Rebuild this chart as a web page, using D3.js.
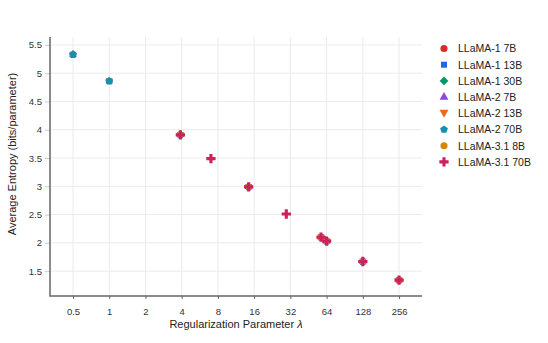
<!DOCTYPE html>
<html>
<head>
<meta charset="utf-8">
<script src="https://cdn.jsdelivr.net/npm/d3@7"></script>
<style>
  body { margin: 0; background: #fff; }
  svg { display: block; font-family: "Liberation Sans", Arial, sans-serif; }
</style>
</head>
<body>
<svg id="chart" width="548" height="343"></svg>
<script>
// series names (legend order = draw order)
const seriesNames = ["LLaMA-1 7B", "LLaMA-1 13B", "LLaMA-1 30B", "LLaMA-2 7B",
                     "LLaMA-2 13B", "LLaMA-2 70B", "LLaMA-3.1 8B", "LLaMA-3.1 70B"];
const seriesColors = ["#e0282a", "#2563eb", "#07966a", "#8b46e6",
                      "#ee6a1b", "#1592aa", "#d4870c", "#cf1f5f"];
const seriesShapes = ["circle", "square", "diamond", "triangleUp",
                      "triangleDown", "pentagon", "circle", "plus"];

// regularization parameter values / average entropy
const lambdaL1 = [3.9, 14.4, 57.5, 64, 128, 256];
const entropyL1 = [3.91, 2.99, 2.10, 2.03, 1.67, 1.34];
const lambdaL2 = [0.5, 1, 3.9, 14.4, 57.5, 64, 128, 256];
const entropyL2 = [5.33, 4.86, 3.91, 2.99, 2.10, 2.03, 1.67, 1.34];
const lambdaL31_8 = [3.9, 14.4, 57.5, 64, 128, 256];
const entropyL31_8 = [3.91, 2.99, 2.10, 2.03, 1.67, 1.34];
const lambdaL31_70 = [3.9, 7, 14.4, 29.6, 57.5, 64, 128, 256];
const entropyL31_70 = [3.91, 3.49, 2.99, 2.51, 2.10, 2.03, 1.67, 1.34];

const xTicks = [0.5, 1, 2, 4, 8, 16, 32, 64, 128, 256];
const yTicks = [1.5, 2, 2.5, 3, 3.5, 4, 4.5, 5, 5.5];

const seriesLambda = [lambdaL1, lambdaL1, lambdaL1, lambdaL2, lambdaL2, lambdaL2, lambdaL31_8, lambdaL31_70];
const seriesEntropy = [entropyL1, entropyL1, entropyL1, entropyL2, entropyL2, entropyL2, entropyL31_8, entropyL31_70];

const svg = d3.select("#chart");
const plotLeft = 50, plotRight = 422, plotTop = 37, plotBottom = 296;

const x = d3.scaleLog().base(2).domain([0.322, 397]).range([plotLeft, plotRight]);
const y = d3.scaleLinear().domain([1.06, 5.64]).range([plotBottom, plotTop]);

// custom symbols
const pentagon = {
  draw(ctx, size) {
    const r = Math.sqrt(size / 2.378);
    for (let i = 0; i < 5; i++) {
      const a = -Math.PI / 2 + i * 2 * Math.PI / 5;
      if (i === 0) ctx.moveTo(r * Math.cos(a), r * Math.sin(a));
      else ctx.lineTo(r * Math.cos(a), r * Math.sin(a));
    }
    ctx.closePath();
  }
};
const triangleDown = {
  draw(ctx, size) {
    const h = Math.sqrt(size * 4 / Math.sqrt(3)) / 2;
    ctx.moveTo(0, h);
    ctx.lineTo(h, -h * 0.8);
    ctx.lineTo(-h, -h * 0.8);
    ctx.closePath();
  }
};
function symbolFor(shape, size) {
  const types = {
    circle: d3.symbolCircle,
    square: d3.symbolSquare,
    diamond: d3.symbolDiamond2,
    triangleUp: d3.symbolTriangle,
    triangleDown: triangleDown,
    pentagon: pentagon,
    plus: d3.symbolCross
  };
  return d3.symbol().type(types[shape]).size(size)();
}
const markerSize = { circle: 40, square: 36, diamond: 50, triangleUp: 34, triangleDown: 34, pentagon: 40, plus: 48 };
const pointSize = { circle: 34, square: 30, diamond: 40, triangleUp: 26, triangleDown: 22, pentagon: 42, plus: 48 };

// grid
svg.append("g").selectAll("line").data(xTicks).join("line")
  .attr("x1", d => x(d)).attr("x2", d => x(d))
  .attr("y1", plotTop).attr("y2", plotBottom)
  .attr("stroke", "#ebebeb").attr("stroke-width", 1);
svg.append("g").selectAll("line").data(yTicks).join("line")
  .attr("x1", plotLeft).attr("x2", plotRight)
  .attr("y1", d => y(d)).attr("y2", d => y(d))
  .attr("stroke", "#ebebeb").attr("stroke-width", 1);

// axes
const xAxis = svg.append("g")
  .attr("transform", `translate(0,${plotBottom})`)
  .call(d3.axisBottom(x).tickValues(xTicks).tickFormat(d => d).tickSize(3).tickPadding(9));
const yAxis = svg.append("g")
  .attr("transform", `translate(${plotLeft},0)`)
  .call(d3.axisLeft(y).tickValues(yTicks).tickFormat(d => d).tickSize(5).tickPadding(3));

[xAxis, yAxis].forEach(a => {
  a.select(".domain").remove();
  a.selectAll("text").attr("font-size", 9.5).attr("fill", "#333")
    .attr("font-family", "Liberation Sans, Arial, sans-serif");
});
xAxis.selectAll(".tick line").attr("stroke", "#666");
yAxis.selectAll(".tick line").attr("stroke", "#ccc");

svg.append("path")
  .attr("d", `M${plotLeft},${plotTop}V${plotBottom}H${plotRight}`)
  .attr("fill", "none").attr("stroke", "#666").attr("stroke-width", 1.5);

// axis titles
svg.append("text")
  .attr("x", (plotLeft + plotRight) / 2).attr("y", 328)
  .attr("text-anchor", "middle").attr("font-size", 11).attr("fill", "#222")
  .text("Regularization Parameter ")
  .append("tspan").attr("font-style", "italic").text("λ");

svg.append("text")
  .attr("transform", "translate(16,154) rotate(-90)")
  .attr("text-anchor", "middle").attr("font-size", 11).attr("fill", "#222")
  .text("Average Entropy (bits/parameter)");

// points
seriesNames.forEach((name, i) => {
  const pts = seriesLambda[i].map((l, j) => ({ l: l, e: seriesEntropy[i][j] }));
  svg.append("g").selectAll("path").data(pts).join("path")
    .attr("transform", d => `translate(${x(d.l)},${y(d.e)})`)
    .attr("d", symbolFor(seriesShapes[i], pointSize[seriesShapes[i]]))
    .attr("fill", seriesColors[i]);
});

// legend
const legend = svg.append("g").attr("transform", "translate(444,48.5)");
seriesNames.forEach((name, i) => {
  const row = legend.append("g").attr("transform", `translate(0,${i * 16.2})`);
  row.append("path")
    .attr("d", symbolFor(seriesShapes[i], markerSize[seriesShapes[i]]))
    .attr("fill", seriesColors[i]);
  row.append("text")
    .attr("x", 14).attr("y", 3.8)
    .attr("font-size", 10.5).attr("fill", "#222")
    .text(name);
});
</script>
</body>
</html>
